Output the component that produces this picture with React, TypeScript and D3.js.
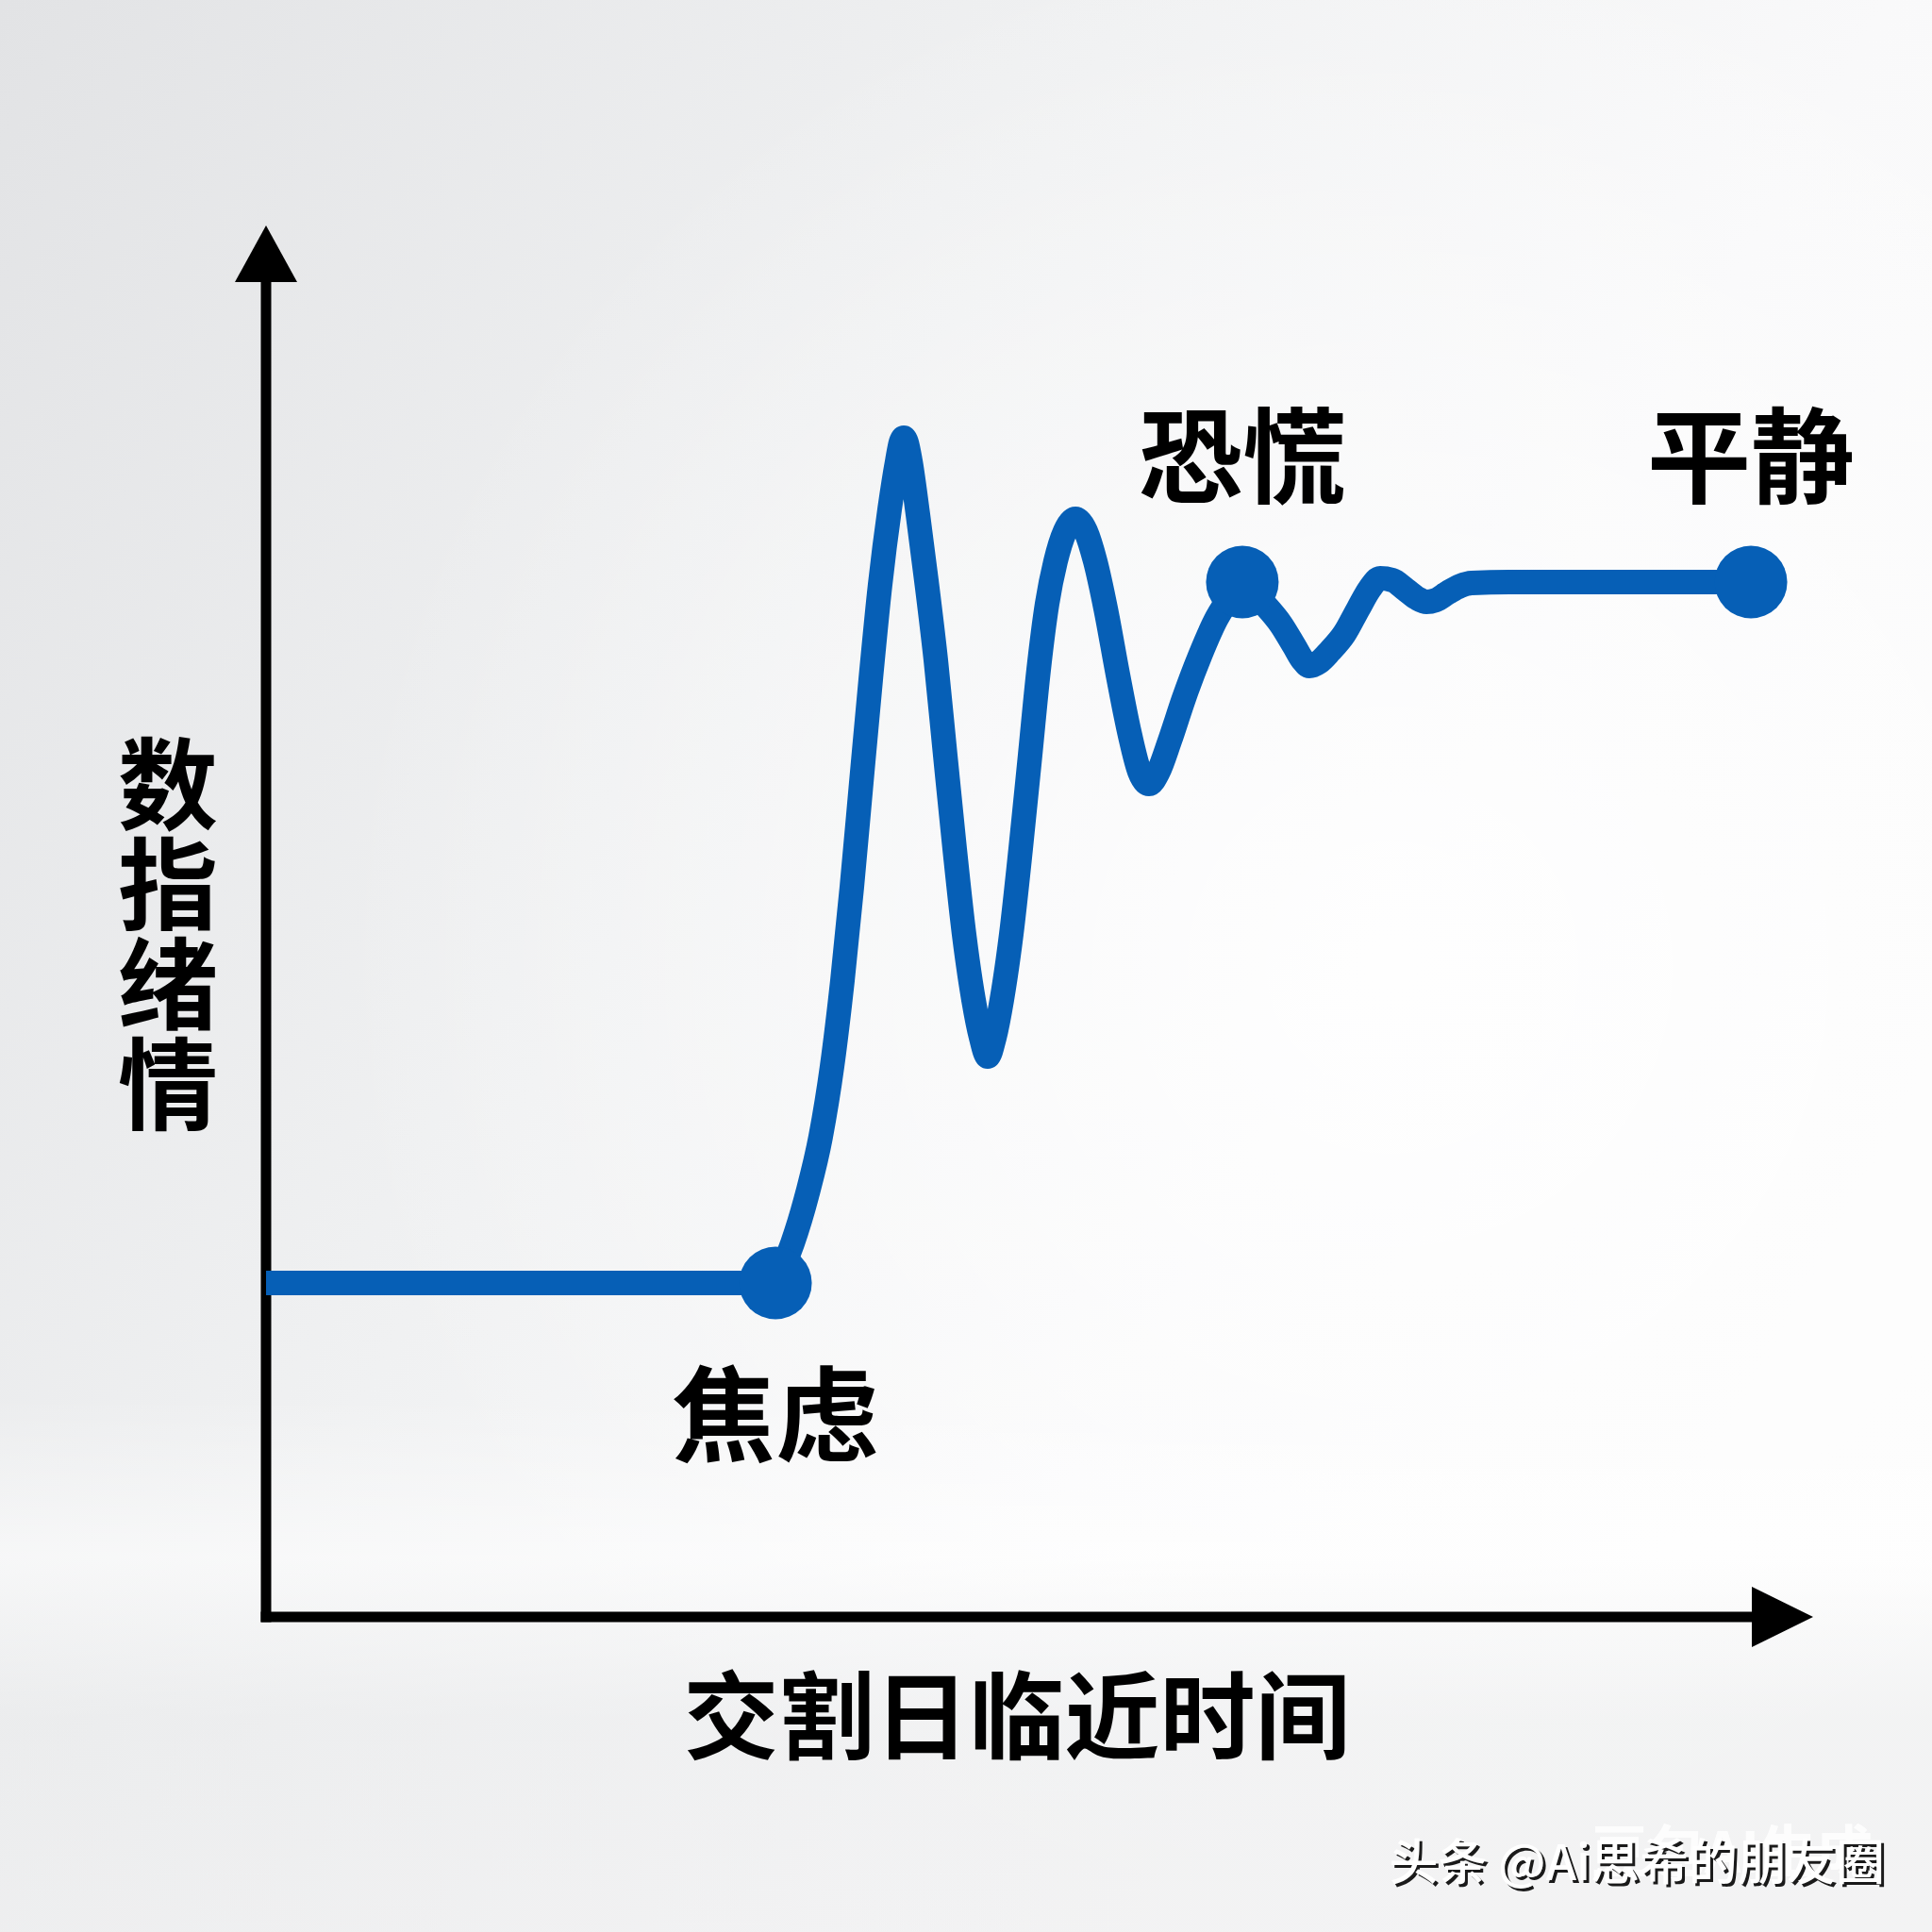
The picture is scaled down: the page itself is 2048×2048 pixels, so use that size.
import React from "react";
import * as d3 from "d3";

// Time (0..100 along the x axis) and emotion index (0..100 along the y axis)
// Calm phase before the first marker
const flatTime = [0, 34.29];
const flatEmotion = [24.0, 24.0];

// Surge: from "焦虑" up through the big swings to "恐慌"
const surgeTime = [
  34.29, 35.43, 36.44, 37.33, 38.1, 38.79, 39.43, 40.06, 40.7, 41.33, 41.97, 42.48,
  42.73, 42.92, 43.11, 43.37, 43.87, 44.44, 45.08, 45.71, 46.35, 46.98, 47.62,
  48.13, 48.57, 49.02, 49.52, 50.16, 50.79, 51.43, 52.0, 52.57, 53.14, 53.78,
  54.48, 55.17, 55.81, 56.51, 57.33, 58.16, 58.79, 59.43, 60.06, 60.83, 61.78,
  62.86, 64.0, 64.95, 65.71,
];
const surgeEmotion = [
  24.0, 26.85, 30.44, 34.51, 39.59, 45.69, 52.47, 59.93, 67.39, 74.17, 79.59, 83.05,
  84.41, 84.75, 84.41, 83.05, 79.25, 74.51, 68.75, 61.97, 55.19, 49.08, 44.34,
  41.63, 40.27, 41.63, 44.34, 49.08, 55.19, 61.97, 68.07, 72.81, 75.86, 78.03,
  78.92, 78.03, 75.86, 72.47, 67.73, 63.32, 60.75, 59.86, 60.75, 62.98, 66.03,
  69.08, 71.8, 73.36, 74.37,
];

// Settling: from "恐慌" through the small wiggles to "平静"
const settleTime = [
  65.71, 67.17, 68.32, 69.21, 69.78, 70.22, 70.86, 71.62, 72.57, 73.52, 74.29,
  74.98, 75.81, 76.7, 77.46, 78.1, 78.73, 79.56, 80.38, 81.14, 83.68, 99.94,
];
const settleEmotion = [
  74.37, 72.81, 71.32, 69.76, 68.75, 68.34, 68.61, 69.42, 70.64, 72.47, 73.9,
  74.64, 74.51, 73.83, 73.22, 72.95, 73.08, 73.63, 74.1, 74.31, 74.37, 74.37,
];

const stageLabels = ["焦虑", "恐慌", "平静"];
const stageTimes = [34.29, 65.71, 99.94];
const stageEmotions = [24.0, 74.37, 74.37];
const stageLabelTimes = [34.29, 65.71, 99.94];
const stageLabelEmotions = [11.7, 80.6, 80.6];

const xAxisTitle = "交割日临近时间";
const yAxisTitle = "数指绪情";
const watermark = "头条 @Ai思希的朋友圈";
const watermarkBack = "豆包AI生成";

const W = 2048;
const H = 2048;
const FONT = "'Noto Sans CJK SC', 'Noto Sans', sans-serif";
const BLUE = "#065fb6";

export default function App() {
  const x = d3.scaleLinear().domain([0, 100]).range([282, 1857]);
  const y = d3.scaleLinear().domain([0, 100]).range([1714, 239]);

  const zip = (a: number[], b: number[]) => a.map((t, i) => [t, b[i]] as [number, number]);
  const smooth = d3
    .line<[number, number]>()
    .x((d) => x(d[0]))
    .y((d) => y(d[1]))
    .curve(d3.curveMonotoneX);
  const straight = d3
    .line<[number, number]>()
    .x((d) => x(d[0]))
    .y((d) => y(d[1]));

  const segments = [
    straight(zip(flatTime, flatEmotion)),
    smooth(zip(surgeTime, surgeEmotion)),
    smooth(zip(settleTime, settleEmotion)),
  ];

  const x0 = x(0);
  const y0 = y(0);
  const yTip = y(100);
  const xEnd = x(100);

  return (
    <svg
      width={W}
      height={H}
      viewBox={`0 0 ${W} ${H}`}
      style={{ position: "absolute", left: 0, top: 0, display: "block" }}
    >
      <defs>
        <linearGradient id="bg" x1="0" y1="0" x2="1" y2="0.55">
          <stop offset="0" stopColor="#e2e3e5" />
          <stop offset="0.45" stopColor="#f0f1f2" />
          <stop offset="0.75" stopColor="#f9f9fa" />
          <stop offset="1" stopColor="#fcfcfc" />
        </linearGradient>
        <radialGradient id="glow" cx="0.72" cy="0.5" r="0.55">
          <stop offset="0" stopColor="#ffffff" stopOpacity="0.85" />
          <stop offset="1" stopColor="#ffffff" stopOpacity="0" />
        </radialGradient>
        <linearGradient id="floor" x1="0" y1="0" x2="0" y2="1">
          <stop offset="0" stopColor="#ffffff" stopOpacity="0" />
          <stop offset="0.3" stopColor="#ffffff" stopOpacity="0.55" />
          <stop offset="0.6" stopColor="#e9eaeb" stopOpacity="0.5" />
          <stop offset="1" stopColor="#ededee" stopOpacity="0.6" />
        </linearGradient>
      </defs>
      <rect x={0} y={0} width={W} height={H} fill="url(#bg)" />
      <rect x={0} y={0} width={W} height={H} fill="url(#glow)" />
      <rect x={0} y={1480} width={W} height={568} fill="url(#floor)" />

      {/* axes */}
      <line x1={x0} y1={yTip + 50} x2={x0} y2={y0 + 5.5} stroke="#000" strokeWidth={11} />
      <line x1={x0 - 5.5} y1={y0} x2={xEnd + 5} y2={y0} stroke="#000" strokeWidth={11} />
      <polygon
        points={`${x0},${yTip} ${x0 - 33},${yTip + 60} ${x0 + 33},${yTip + 60}`}
        fill="#000"
      />
      <polygon
        points={`${xEnd + 65},${y0} ${xEnd},${y0 - 32} ${xEnd},${y0 + 32}`}
        fill="#000"
      />

      {/* curve */}
      {segments.map((d, i) => (
        <path
          key={i}
          d={d || ""}
          fill="none"
          stroke={BLUE}
          strokeWidth={26}
          strokeLinejoin="round"
          strokeLinecap="butt"
        />
      ))}
      {stageTimes.map((t, i) => (
        <circle key={i} cx={x(t)} cy={y(stageEmotions[i])} r={38.5} fill={BLUE} />
      ))}

      {/* stage labels */}
      {stageLabels.map((s, i) => (
        <text
          key={s}
          x={x(stageLabelTimes[i])}
          y={y(stageLabelEmotions[i])}
          textAnchor="middle"
          fontFamily={FONT}
          fontWeight={700}
          fontSize={110}
          fill="#000"
        >
          {s}
        </text>
      ))}

      {/* axis titles */}
      <text
        x={1078}
        y={1857}
        textAnchor="middle"
        fontFamily={FONT}
        fontWeight={700}
        fontSize={101}
        fill="#000"
      >
        {xAxisTitle}
      </text>
      <text
        x={178}
        y={778}
        textAnchor="start"
        fontFamily={FONT}
        fontWeight={700}
        fontSize={106}
        fill="#000"
        style={{ writingMode: "vertical-rl", textOrientation: "upright" } as any}
      >
        {yAxisTitle}
      </text>

      {/* watermark */}
      <text
        x={1985}
        y={1985}
        textAnchor="end"
        fontFamily={FONT}
        fontWeight={700}
        fontSize={60}
        fill="#ffffff"
        opacity={0.9}
      >
        {watermarkBack}
      </text>
      <text
        x={2001}
        y={1996}
        textAnchor="end"
        fontFamily={FONT}
        fontWeight={500}
        fontSize={52}
        fill="#1a1a1a"
      >
        {watermark}
      </text>
      <text
        x={1998}
        y={1993}
        textAnchor="end"
        fontFamily={FONT}
        fontWeight={500}
        fontSize={52}
        fill="#ffffff"
      >
        {watermark}
      </text>
    </svg>
  );
}
